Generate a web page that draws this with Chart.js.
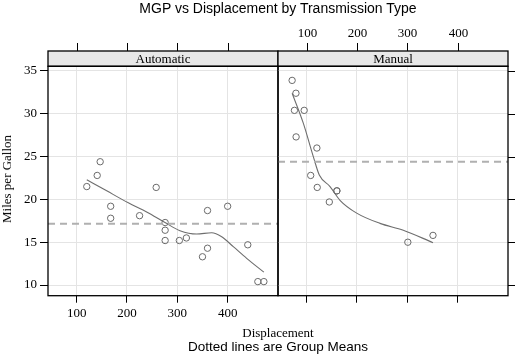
<!DOCTYPE html>
<html>
<head>
<meta charset="utf-8">
<script src="https://cdn.jsdelivr.net/npm/chart.js@4/dist/chart.umd.min.js"></script>
<style>
  html, body { margin: 0; padding: 0; background: #fff; }
  #wrap { position: relative; width: 515px; height: 357px; overflow: hidden; }
  canvas { position: absolute; left: 0; top: 0; }
  .t { position: absolute; white-space: nowrap; color: #000; }
</style>
</head>
<body>
<div id="wrap">
  <canvas id="cA" width="515" height="357"></canvas>
  <canvas id="cB" width="515" height="357"></canvas>
  <div class="t" id="title" style="font-family:'Liberation Sans',Arial,sans-serif;font-size:14px;left:278px;top:0px;transform:translateX(-50%);">MGP vs Displacement by Transmission Type</div>
  <div class="t" id="xtitle" style="font-family:'Liberation Serif','Times New Roman',serif;font-size:13px;left:278px;top:325px;transform:translateX(-50%);">Displacement</div>
  <div class="t" id="sub" style="font-family:'Liberation Sans',Arial,sans-serif;font-size:13.5px;left:278px;top:339px;transform:translateX(-50%);">Dotted lines are Group Means</div>
  <div class="t" id="ytitle" style="font-family:'Liberation Serif','Times New Roman',serif;font-size:13px;left:7px;top:179px;transform:translate(-50%,-50%) rotate(-90deg);">Miles per Gallon</div>
</div>
<script>
// ---------- data (mtcars) ----------
const panelNames = ["Automatic", "Manual"];
const autoDisp = [258, 360, 225, 360, 146.7, 140.8, 167.6, 167.6, 275.8, 275.8, 275.8, 472, 460, 440, 120.1, 318, 304, 350, 400];
const autoMpg  = [21.4, 18.7, 18.1, 14.3, 24.4, 22.8, 19.2, 17.8, 16.4, 17.3, 15.2, 10.4, 10.4, 14.7, 21.5, 15.5, 15.2, 13.3, 19.2];
const manDisp  = [160, 160, 108, 78.7, 75.7, 71.1, 79, 120.3, 95.1, 351, 145, 301, 121];
const manMpg   = [21, 21, 22.8, 32.4, 30.4, 33.9, 27.3, 26, 30.4, 15.8, 19.7, 15, 21.4];
// smooth (loess) curves
const autoSmoothX = [120.1, 159.7, 202.6, 240, 275.5, 305.3, 338.5, 368.3, 388.2, 411.2, 437.8, 472];
const autoSmoothY = [22.3, 21.0, 19.6, 18.5, 17.3, 16.35, 15.96, 16.11, 15.64, 14.48, 13.12, 11.5];
const manSmoothX  = [71.1, 93.3, 113.2, 125.1, 146.4, 166.2, 199.4, 245.7, 292, 351];
const manSmoothY  = [32.4, 28.9, 25.0, 22.85, 21.5, 19.9, 18.4, 17.2, 16.4, 14.95];
const groupMeans = [17.147, 24.392];
const xTicks = [100, 200, 300, 400];
const yTicks = [10, 15, 20, 25, 30, 35];
const xRange = [43.04, 500.06];
const yRange = [8.755, 35.545];

const W = 515, H = 357;
const panelLeft = 48, panelDiv = 278, panelRight = 508;
const panelTop = 66.3, panelBottom = 295.7;
const stripTop = 51;

const serif = "'Liberation Serif','Times New Roman',serif";
const pts = (xs, ys) => xs.map((x, i) => ({x: x, y: ys[i]}));

const panelPlugin = {
  id: 'panel',
  afterDraw(chart, args, opts) {
    const ctx = chart.ctx, a = chart.chartArea, xs = chart.scales.x;
    ctx.save();
    // strip
    ctx.fillStyle = '#e8e8e8';
    ctx.fillRect(a.left, stripTop, a.right - a.left, a.top - stripTop);
    ctx.strokeStyle = '#000';
    ctx.lineWidth = 1.3;
    ctx.strokeRect(a.left, stripTop, a.right - a.left, a.top - stripTop);
    ctx.fillStyle = '#000';
    ctx.font = '13px ' + serif;
    ctx.textAlign = 'center';
    ctx.textBaseline = 'middle';
    ctx.fillText(opts.name, (a.left + a.right) / 2, (stripTop + a.top) / 2 + 1);
    // panel box
    ctx.strokeRect(a.left, a.top, a.right - a.left, a.bottom - a.top);
    // top ticks
    ctx.lineWidth = 1;
    xTicks.forEach(v => {
      const px = Math.round(xs.getPixelForValue(v)) + 0.5;
      ctx.beginPath();
      ctx.moveTo(px, stripTop);
      ctx.lineTo(px, stripTop - 8);
      ctx.stroke();
      if (opts.topLabels) {
        ctx.fillText(String(v), px, 34);
      }
    });
    // right ticks
    if (opts.rightTicks) {
      const ys = chart.scales.y;
      yTicks.forEach(v => {
        const py = Math.round(ys.getPixelForValue(v)) + 0.5;
        ctx.beginPath();
        ctx.moveTo(a.right, py);
        ctx.lineTo(a.right + 7, py);
        ctx.stroke();
      });
    }
    ctx.restore();
  }
};

function makeChart(id, idx) {
  const isA = idx === 0;
  const sX = isA ? autoDisp : manDisp, sY = isA ? autoMpg : manMpg;
  const smX = isA ? autoSmoothX : manSmoothX, smY = isA ? autoSmoothY : manSmoothY;
  return new Chart(document.getElementById(id), {
    type: 'scatter',
    data: {
      datasets: [
        {
          label: 'mean',
          type: 'line',
          data: [{x: xRange[0], y: groupMeans[idx]}, {x: xRange[1], y: groupMeans[idx]}],
          borderColor: '#b0b0b0',
          borderWidth: 2,
          borderDash: [7, 5],
          pointRadius: 0,
          fill: false
        },
        {
          label: 'smooth',
          type: 'line',
          data: pts(smX, smY),
          borderColor: '#6e6e6e',
          borderWidth: 1.1,
          pointRadius: 0,
          tension: 0.4,
          cubicInterpolationMode: 'monotone',
          fill: false
        },
        {
          label: 'points',
          data: pts(sX, sY),
          pointStyle: 'circle',
          pointRadius: 3.2,
          borderColor: '#6a6a6a',
          borderWidth: 1,
          backgroundColor: 'rgba(255,255,255,0)',
          showLine: false
        }
      ]
    },
    options: {
      responsive: false,
      animation: false,
      devicePixelRatio: 1,
      events: [],
      layout: {
        padding: {
          left: isA ? 0 : panelDiv,
          right: isA ? W - panelDiv : W - panelRight,
          top: panelTop,
          bottom: 0
        }
      },
      plugins: {
        legend: { display: false },
        tooltip: { enabled: false },
        title: { display: false },
        panel: { name: panelNames[idx], topLabels: !isA, rightTicks: !isA }
      },
      scales: {
        x: {
          type: 'linear',
          min: xRange[0], max: xRange[1],
          afterBuildTicks: s => { s.ticks = xTicks.map(v => ({value: v})); },
          afterFit: s => { s.height = H - panelBottom; },
          grid: { color: '#e4e4e4', lineWidth: 1, tickColor: '#000', tickLength: 7, drawTicks: true },
          border: { display: false },
          ticks: {
            display: true,
            color: '#000',
            font: { family: serif, size: 13 },
            padding: 3,
            maxRotation: 0,
            callback: v => isA ? String(v) : ''
          }
        },
        y: {
          type: 'linear',
          position: 'left',
          min: yRange[0], max: yRange[1],
          afterBuildTicks: s => { s.ticks = yTicks.map(v => ({value: v})); },
          afterFit: s => { s.width = isA ? panelLeft : 0; },
          grid: { color: '#e4e4e4', lineWidth: 1, tickColor: '#000', tickLength: isA ? 8 : 0, drawTicks: isA },
          border: { display: false },
          ticks: {
            display: isA,
            color: '#000',
            font: { family: serif, size: 13 },
            padding: 3
          }
        }
      }
    },
    plugins: [panelPlugin]
  });
}

makeChart('cA', 0);
makeChart('cB', 1);
</script>
</body>
</html>
